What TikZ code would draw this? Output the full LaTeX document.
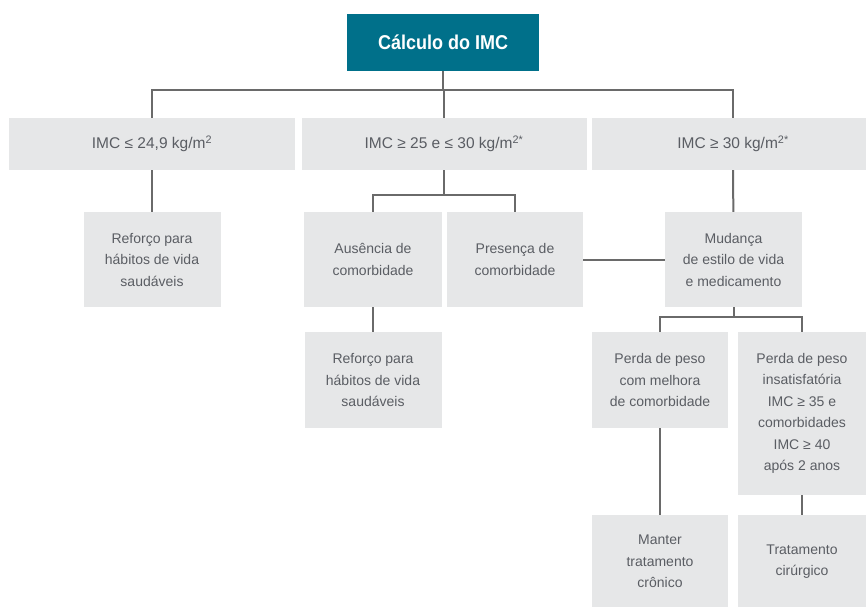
\documentclass[tikz,border=0pt]{standalone}
\usepackage{fontspec}
\setmainfont{Liberation Sans}
\newfontfamily\titlefont[FakeStretch=0.9]{Liberation Sans}
\usetikzlibrary{calc}
\definecolor{imcteal}{HTML}{00708A}
\definecolor{boxgray}{HTML}{E6E7E8}
\definecolor{txtgray}{HTML}{5A5D63}
\definecolor{linegray}{HTML}{6A6A6A}
\tikzstyle{stepbox} = [rectangle, fill=boxgray, text=txtgray, align=center, inner sep=0pt, font=\fontsize{14}{21.5}\selectfont]
\tikzstyle{rangebox} = [stepbox, minimum height=52pt, font=\fontsize{15.5}{18}\selectfont]
\tikzstyle{conn} = [draw=linegray, line width=2pt]

\begin{document}
\begin{tikzpicture}[x=1pt, y=-1pt]

        \useasboundingbox (0, 0) rectangle (866, 606);

        \node[rectangle, fill=imcteal, text=white, minimum width=192pt, minimum height=57pt, font=\titlefont\bfseries\fontsize{20}{24}\selectfont] at (443, 42.5) (calculo) {Cálculo do IMC};

        \node[rangebox, minimum width=286pt] at (152, 144) (imcA) {IMC ≤ 24,9 kg/m\textsuperscript{2}};
        \node[rangebox, minimum width=285pt] at (444, 144) (imcB) {IMC ≥ 25 e ≤ 30 kg/m\textsuperscript{2*}};
        \node[rangebox, minimum width=282pt] at (733, 144) (imcC) {IMC ≥ 30 kg/m\textsuperscript{2*}};

        \node[stepbox, minimum width=137pt, minimum height=95pt] at (152, 259.5) (reforcoA) {Reforço para\\hábitos de vida\\saudáveis};
        \node[stepbox, minimum width=138pt, minimum height=95pt] at (373, 259.5) (ausencia) {Ausência de\\comorbidade};
        \node[stepbox, minimum width=136pt, minimum height=95pt] at (515, 259.5) (presenca) {Presença de\\comorbidade};
        \node[stepbox, minimum width=137pt, minimum height=95pt] at (733.5, 259.5) (mudanca) {Mudança\\de estilo de vida\\e medicamento};

        \node[stepbox, minimum width=137pt, minimum height=96pt] at (373, 380) (reforcoB) {Reforço para\\hábitos de vida\\saudáveis};
        \node[stepbox, minimum width=136pt, minimum height=96pt] at (660, 380) (perdaA) {Perda de peso\\com melhora\\de comorbidade};
        \node[stepbox, minimum width=128pt, minimum height=163pt] at (802, 413.5) (perdaB) {Perda de peso\\insatisfatória\\IMC ≥ 35 e\\comorbidades\\IMC ≥ 40\\após 2 anos};

        \node[stepbox, minimum width=136pt, minimum height=93pt] at (660, 561.5) (manter) {Manter\\tratamento\\crônico};
        \node[stepbox, minimum width=128pt, minimum height=93pt] at (802, 561.5) (cirurgico) {Tratamento\\cirúrgico};

        \coordinate (topbus) at (443, 90);
        \coordinate (midbus) at (444, 195);
        \coordinate (lowbus) at (733.5, 317);

        \draw[conn] (calculo) -- (topbus);
        \draw[conn] (imcA) |- (topbus) -| (imcC);
        \draw[conn] (imcB) -- (imcB |- topbus);

        \draw[conn] (imcA) -- (reforcoA);
        \draw[conn] (imcB) -- (midbus);
        \draw[conn] (ausencia) |- (midbus) -| (presenca);
        \draw[conn] (imcC) -- (mudanca);
        \draw[conn] (presenca) -- (mudanca);

        \draw[conn] (ausencia) -- (reforcoB);
        \draw[conn] (mudanca) -- (lowbus);
        \draw[conn] (perdaA) |- (lowbus) -| (perdaB);

        \draw[conn] (perdaA) -- (manter);
        \draw[conn] (perdaB) -- (cirurgico);

    \end{tikzpicture}
\end{document}
